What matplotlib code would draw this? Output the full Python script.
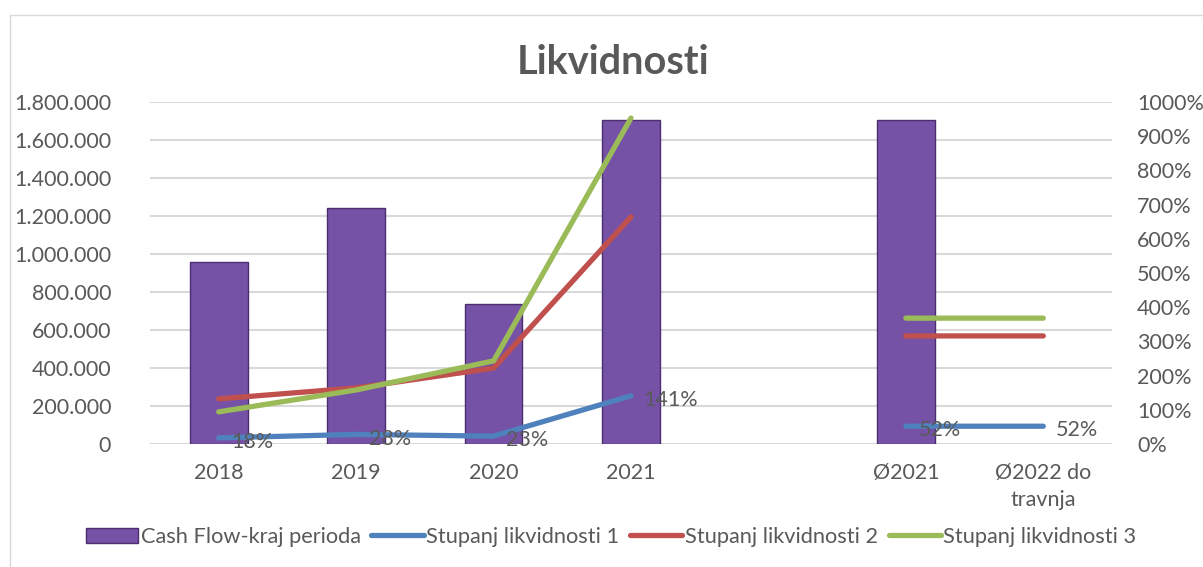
import numpy as np
import matplotlib
matplotlib.use("Agg")
import matplotlib.pyplot as plt
from matplotlib.lines import Line2D
from matplotlib.patches import Patch
from matplotlib.ticker import FuncFormatter

plt.rcParams['font.family'] = ['Lato', 'DejaVu Sans']

# data
categories = ['2018', '2019', '2020', '2021', '', 'Ø2021', 'Ø2022 do\ntravnja']
cash_flow = [958000, 1242000, 737000, 1705000, np.nan, 1705000, np.nan]
stupanj_1 = [18, 28, 23, 141, np.nan, 52, 52]
stupanj_2 = [132, 164, 222, 664, np.nan, 316, 316]
stupanj_3 = [94, 158, 243, 953, np.nan, 368, 368]
labels_1 = ['18%', '28%', '23%', '141%', '', '52%', '52%']

grey = '#595959'
bar_col = '#7652A6'
c1, c2, c3 = '#4F81BD', '#C0504D', '#9BBB59'
fs = 15.5

fig = plt.figure(figsize=(12.03, 5.67), dpi=100)
ax = fig.add_axes([150/1203, 123/567, 962/1203, 342/567])
ax2 = ax.twinx()

x = np.arange(len(categories))
ax.bar(x, cash_flow, width=0.42, color=bar_col, edgecolor='#4A2E70', linewidth=1.0, zorder=2)
ax.set_xlim(-0.5, 6.5)
ax.set_ylim(0, 1800000)
ax.set_yticks(np.arange(0, 1800001, 200000))
ax.yaxis.set_major_formatter(FuncFormatter(lambda v, p: '{:,.0f}'.format(v).replace(',', '.')))
ax.grid(axis='y', color='#D9D9D9', linewidth=1.5, zorder=0)
ax.set_axisbelow(True)
ax.set_xticks(x)
ax.set_xticklabels(categories, fontsize=fs, color=grey, linespacing=1.4)
ax.tick_params(axis='x', length=0, pad=14)
ax.tick_params(axis='y', length=0, pad=28, labelsize=fs, labelcolor=grey)
for s in ax.spines.values():
    s.set_visible(False)

for vals, col in [(stupanj_1, c1), (stupanj_2, c2), (stupanj_3, c3)]:
    ax2.plot(x, vals, color=col, linewidth=3.8, solid_capstyle='round', solid_joinstyle='round', zorder=3)
for xi, v, t in zip(x, stupanj_1, labels_1):
    if t:
        ax2.annotate(t, (xi, v), xytext=(9, -3), textcoords='offset points',
                     ha='left', va='center', fontsize=fs, color=grey, zorder=5)
ax2.set_ylim(0, 1000)
ax2.set_yticks(np.arange(0, 1001, 100))
ax2.yaxis.set_major_formatter(FuncFormatter(lambda v, p: '%d%%' % v))
ax2.tick_params(axis='y', length=0, pad=18, labelsize=fs, labelcolor=grey)
for s in ax2.spines.values():
    s.set_visible(False)

fig.text(0.51, 1 - 62/567, 'Likvidnosti', ha='center', va='center', fontsize=28.5,
         fontweight='bold', color=grey)

handles = [Patch(facecolor=bar_col, edgecolor='#4A2E70'),
           Line2D([], [], color=c1, linewidth=3.8, solid_capstyle='round'),
           Line2D([], [], color=c2, linewidth=3.8, solid_capstyle='round'),
           Line2D([], [], color=c3, linewidth=3.8, solid_capstyle='round')]
names = ['Cash Flow-kraj perioda', 'Stupanj likvidnosti 1', 'Stupanj likvidnosti 2', 'Stupanj likvidnosti 3']
leg = fig.legend(handles, names, loc='center', bbox_to_anchor=(0.508, 1 - 537/567), ncol=4,
                 frameon=False, fontsize=15.7, handlelength=2.4, handletextpad=0.1,
                 columnspacing=0.5, labelcolor=grey)

# chart border
fig.add_artist(Line2D([10/1203, 10/1203], [0, 1 - 15/567], color='#D9D9D9', linewidth=1, transform=fig.transFigure))
fig.add_artist(Line2D([10/1203, 1], [1 - 15/567, 1 - 15/567], color='#D9D9D9', linewidth=1, transform=fig.transFigure))

fig.savefig('out.png', dpi=100)
